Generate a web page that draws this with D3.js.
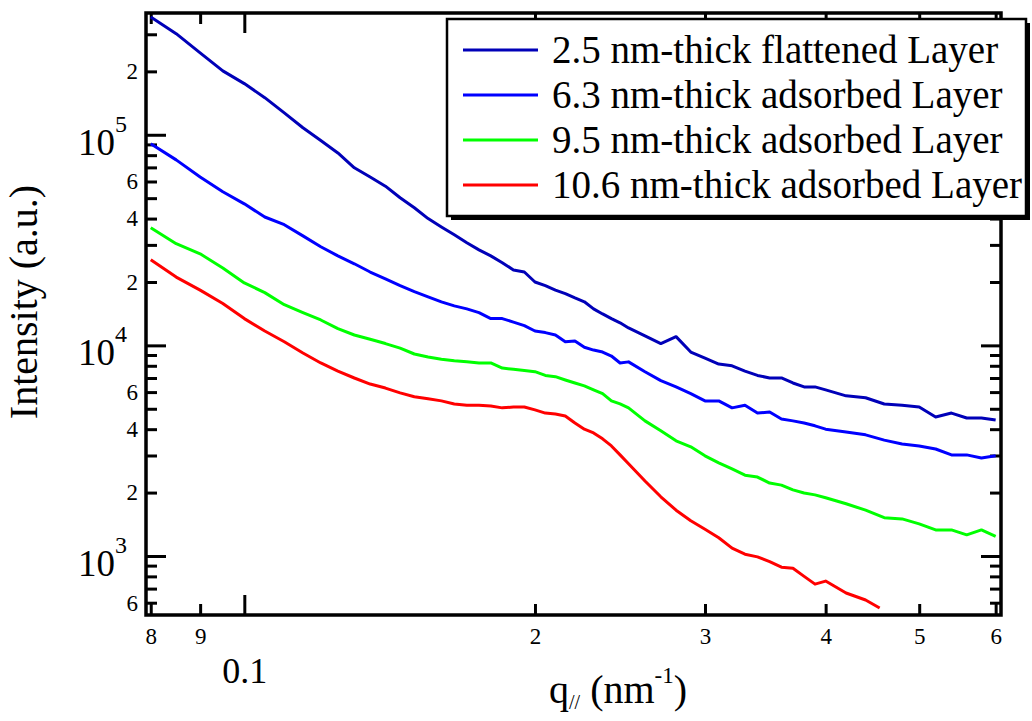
<!DOCTYPE html>
<html>
<head>
<meta charset="utf-8">
<script src="https://cdn.jsdelivr.net/npm/d3@7"></script>
<style>
  body { margin: 0; background: #fff; }
  svg text { font-family: "Liberation Serif", "Times New Roman", serif; fill: #000; }
</style>
</head>
<body>
<svg id="chart" width="1032" height="721"></svg>
<script>
// q values (nm^-1) shared by the curves
let qGrid = [
  0.080, 0.085, 0.090, 0.095, 0.100, 0.105, 0.110, 0.115, 0.120, 0.125,
  0.130, 0.135, 0.140, 0.145, 0.150, 0.155, 0.160, 0.165, 0.170, 0.175,
  0.180, 0.185, 0.190, 0.195, 0.200, 0.205, 0.210, 0.215, 0.220, 0.225,
  0.230, 0.235, 0.240, 0.245, 0.250, 0.26, 0.27, 0.28, 0.29, 0.30,
  0.31, 0.32, 0.33, 0.34, 0.35, 0.36, 0.37, 0.38, 0.39, 0.40,
  0.42, 0.44, 0.46, 0.48, 0.50, 0.52, 0.54, 0.56, 0.58, 0.60
];
let qRed = qGrid.slice(0, 52).concat([0.455]);

let flattened25 = [
  362000, 302000, 245000, 201000, 175000, 150000, 127000, 108000, 94000, 82000,
  69700, 63000, 57000, 50200, 45000, 40000, 36500, 33500, 30700, 28400,
  26600, 24700, 22800, 22300, 20000, 19200, 18300, 17600, 16800, 16100,
  14900, 14100, 13400, 12800, 12100, 11100, 10200, 11000, 9300, 8700,
  8150, 8000, 7550, 7200, 7000, 7000, 6630, 6350, 6350, 6150,
  5760, 5640, 5270, 5200, 5100, 4570, 4770, 4520, 4520, 4420
];
let adsorbed63 = [
  90700, 76000, 63000, 53600, 47000, 40700, 37400, 33100, 29400, 26600,
  24400, 22300, 20700, 19200, 18000, 17000, 16100, 15400, 14900, 14300,
  13400, 13400, 12900, 12400, 11700, 11500, 11200, 10400, 10500, 9800,
  9500, 9300, 8900, 8250, 8350, 7500, 6800, 6350, 5900, 5450,
  5450, 5050, 5200, 4770, 4830, 4470, 4380, 4280, 4150, 4000,
  3880, 3760, 3550, 3400, 3330, 3220, 3020, 3020, 2920, 2990
];
let adsorbed95 = [
  36200, 30400, 27200, 23300, 19800, 17800, 15600, 14300, 13200, 12000,
  11200, 10700, 10200, 9700, 9100, 8800, 8600, 8450, 8350, 8250,
  8250, 7800, 7700, 7600, 7500, 7200, 7100, 6850, 6630, 6420,
  6150, 5900, 5450, 5270, 5050, 4380, 3930, 3520, 3300, 2990,
  2770, 2590, 2420, 2370, 2220, 2170, 2060, 1990, 1950, 1890,
  1770, 1650, 1520, 1500, 1420, 1330, 1330, 1260, 1330, 1240
];
let adsorbed106 = [
  25500, 21100, 18300, 15800, 13400, 11700, 10400, 9200, 8250, 7550,
  7000, 6550, 6270, 5950, 5700, 5580, 5450, 5270, 5200, 5200,
  5150, 5050, 5100, 5100, 4940, 4770, 4720, 4620, 4280, 4000,
  3840, 3600, 3330, 3020, 2740, 2270, 1910, 1650, 1470, 1340,
  1220, 1090, 1020, 990, 940, 885, 875, 800, 735, 760,
  667, 618, 566
];

let seriesNames = [
  "2.5 nm-thick flattened Layer",
  "6.3 nm-thick adsorbed Layer",
  "9.5 nm-thick adsorbed Layer",
  "10.6 nm-thick adsorbed Layer"
];
let seriesColors = ["#0000b8", "#0000ff", "#00ff00", "#ff0000"];

// tick values and labels
let xMinorTicks = [0.08, 0.09, 0.2, 0.3, 0.4, 0.5, 0.6];
let xMinorLabels = ["8", "9", "2", "3", "4", "5", "6"];
let xMajorTicks = [0.1];
let xMajorLabels = ["0.1"];
let yMajorTicks = [1000, 10000, 100000];
let yMajorExp = ["3", "4", "5"];
let yMinorTicks = [600, 700, 800, 900,
  2000, 3000, 4000, 5000, 6000, 7000, 8000, 9000,
  20000, 30000, 40000, 50000, 60000, 70000, 80000, 90000,
  200000, 300000];
let yMinorLabels = { 600: "6", 2000: "2", 4000: "4", 6000: "6",
  20000: "2", 40000: "4", 60000: "6", 200000: "2" };

let svg = d3.select("#chart");
let pLeft = 146, pRight = 1001, pTop = 13, pBottom = 615;

let x = d3.scaleLog().domain([0.0791, 0.6077]).range([pLeft, pRight]);
let y = d3.scaleLog().domain([524.5, 378600]).range([pBottom, pTop]);

function styleAxis(g, size) {
  g.select(".domain").remove();
  g.selectAll(".tick line").attr("stroke", "#000").attr("stroke-width", 3);
  g.selectAll(".tick text").style("font-size", size + "px").attr("fill", "#000");
}

// bottom axis
svg.append("g")
  .attr("transform", "translate(0," + pBottom + ")")
  .call(d3.axisBottom(x).tickValues(xMinorTicks).tickSize(-11).tickPadding(13)
    .tickFormat(function(d, i) { return xMinorLabels[i]; }))
  .call(styleAxis, 23);
svg.append("g")
  .attr("transform", "translate(0," + pBottom + ")")
  .call(d3.axisBottom(x).tickValues(xMajorTicks).tickSize(-20).tickPadding(42)
    .tickFormat(function(d, i) { return xMajorLabels[i]; }))
  .call(styleAxis, 36);

// top axis, mirrored ticks
svg.append("g")
  .attr("transform", "translate(0," + pTop + ")")
  .call(d3.axisTop(x).tickValues(xMinorTicks).tickSize(-11).tickFormat(""))
  .call(styleAxis, 10);
svg.append("g")
  .attr("transform", "translate(0," + pTop + ")")
  .call(d3.axisTop(x).tickValues(xMajorTicks).tickSize(-20).tickFormat(""))
  .call(styleAxis, 10);

// left axis
svg.append("g")
  .attr("transform", "translate(" + pLeft + ",0)")
  .call(d3.axisLeft(y).tickValues(yMinorTicks).tickSize(-11).tickPadding(8)
    .tickFormat(function(d) { return yMinorLabels[d] || ""; }))
  .call(styleAxis, 23);
svg.append("g")
  .attr("transform", "translate(" + pLeft + ",0)")
  .call(d3.axisLeft(y).tickValues(yMajorTicks).tickSize(-20).tickFormat(""))
  .call(styleAxis, 10);

yMajorTicks.forEach(function(v, i) {
  let t = svg.append("text")
    .attr("x", 127)
    .attr("y", y(v) + 20)
    .attr("text-anchor", "end");
  t.append("tspan").style("font-size", "37px").text("10");
  t.append("tspan").style("font-size", "24px").attr("dy", -23).text(yMajorExp[i]);
});

// right axis, mirrored ticks
svg.append("g")
  .attr("transform", "translate(" + pRight + ",0)")
  .call(d3.axisRight(y).tickValues(yMinorTicks).tickSize(-11).tickFormat(""))
  .call(styleAxis, 10);
svg.append("g")
  .attr("transform", "translate(" + pRight + ",0)")
  .call(d3.axisRight(y).tickValues(yMajorTicks).tickSize(-20).tickFormat(""))
  .call(styleAxis, 10);

// frame
svg.append("rect")
  .attr("x", pLeft).attr("y", pTop)
  .attr("width", pRight - pLeft).attr("height", pBottom - pTop)
  .attr("fill", "none").attr("stroke", "#000").attr("stroke-width", 3.5);

// curves
let line = d3.line()
  .x(function(d) { return x(d[0]); })
  .y(function(d) { return y(d[1]); });

let curves = [
  d3.zip(qGrid, flattened25),
  d3.zip(qGrid, adsorbed63),
  d3.zip(qGrid, adsorbed95),
  d3.zip(qRed, adsorbed106)
];

svg.append("g")
  .selectAll("path")
  .data(curves)
  .enter()
  .append("path")
  .attr("d", line)
  .attr("fill", "none")
  .attr("stroke", function(d, i) { return seriesColors[i]; })
  .attr("stroke-width", 3)
  .attr("stroke-linejoin", "round");

// axis titles
svg.append("text")
  .attr("transform", "translate(37,302) rotate(-90)")
  .attr("text-anchor", "middle")
  .style("font-size", "40px")
  .text("Intensity (a.u.)");

let xt = svg.append("text").attr("x", 549).attr("y", 703).style("font-size", "40px");
xt.append("tspan").text("q");
xt.append("tspan").style("font-size", "20px").attr("dy", 6).text("//");
xt.append("tspan").attr("dy", -6).text(" (nm");
xt.append("tspan").style("font-size", "23px").attr("dy", -20).text("-1");
xt.append("tspan").attr("dy", 20).text(")");

// legend
let lg = svg.append("g");
lg.append("rect")
  .attr("x", 451).attr("y", 23).attr("width", 579).attr("height", 197)
  .attr("fill", "#000");
lg.append("rect")
  .attr("x", 447).attr("y", 19).attr("width", 579).attr("height", 197)
  .attr("fill", "#fff").attr("stroke", "#000").attr("stroke-width", 2.5);

let rows = lg.selectAll(".row")
  .data(seriesNames)
  .enter()
  .append("g")
  .attr("class", "row")
  .attr("transform", function(d, i) { return "translate(0," + (50 + i * 45) + ")"; });

rows.append("line")
  .attr("x1", 463).attr("x2", 538)
  .attr("stroke", function(d, i) { return seriesColors[i]; })
  .attr("stroke-width", 3);

rows.append("text")
  .attr("x", 552)
  .attr("dy", "0.33em")
  .style("font-size", "39px")
  .text(function(d) { return d; });
</script>
</body>
</html>
